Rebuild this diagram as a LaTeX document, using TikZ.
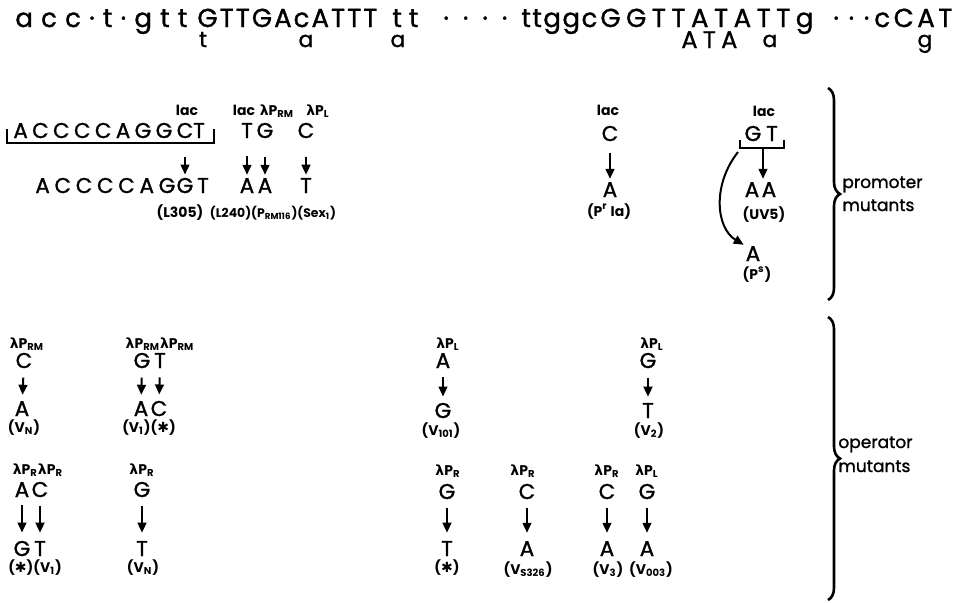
\documentclass[tikz,border=0pt]{standalone}
\usepackage{fontspec}
\setmainfont{Poppins}
\newfontfamily\medfont{Poppins}[FakeBold=1.2]
\newfontfamily\symfont{DejaVu Sans}
\usetikzlibrary{arrows.meta,decorations.pathreplacing}

\newcommand\lamP[1]{{\symfont\bfseries λ}P\textsubscript{#1}}
\newcommand\astx{{\symfont\bfseries ✱}}
\newcommand\spread[2]{\hbox to #1{#2}}

\tikzset{
  seqtop/.style={font=\fontsize{13}{14}\medfont, inner sep=0pt, anchor=base west},
  seqlow/.style={font=\fontsize{11}{12}\medfont, inner sep=0pt, anchor=base},
  nt/.style={font=\fontsize{10.7}{11}\medfont, inner sep=0pt, anchor=base},
  tag/.style={font=\fontsize{7}{8}\selectfont\bfseries, inner sep=0pt, anchor=base},
  side/.style={font=\fontsize{8.5}{10}\medfont, inner sep=0pt, anchor=base west},
  mut/.style={-{Triangle[length=5pt,width=4.4pt]}, line width=1pt, shorten <=4.5pt, shorten >=3pt},
  brk/.style={line width=1pt},
  brc/.style={decorate, decoration={brace,amplitude=6pt}, line width=1.3pt}
}

\begin{document}
\begin{tikzpicture}[x=0.5pt,y=-0.5pt]
\useasboundingbox (0,0) rectangle (960,602);

\node[seqtop] (tA) at (15,27) {\spread{86pt}{a\hfil c\hfil c\hfil ·\hfil t\hfil ·\hfil g\hfil t\hfil t}};
\node[seqtop] (tB) at (197,27) {\spread{90pt}{G\hfil T\hfil T\hfil G\hfil A\hfil c\hfil A\hfil T\hfil T\hfil T}};
\node[seqtop] (tC) at (392,27) {\spread{13pt}{t\hfil t}};
\node[seqtop] (tD) at (443,27) {\spread{32pt}{·\hfil ·\hfil ·\hfil ·}};
\node[seqtop] (tE) at (521,27) {\spread{38pt}{t\hfil t\hfil g\hfil g\hfil c}};
\node[seqtop] (tF) at (600,27) {\spread{106.5pt}{G\hfil G\hfil T\hfil T\hfil A\hfil T\hfil A\hfil T\hfil T\hfil g}};
\node[seqtop] (tG) at (833,27) {\spread{18pt}{·\hfil ·\hfil ·}};
\node[seqtop] (tH) at (874,27) {\spread{39pt}{c\hfil C\hfil A\hfil T}};
\node[seqlow] (bt1) at (203,47) {t};
\node[seqlow] (ba1) at (306,47) {a};
\node[seqlow] (ba2) at (398,47) {a};
\node[seqtop, font=\fontsize{12}{13}\medfont] (bATA) at (681,48) {\spread{28pt}{A\hfil T\hfil A}};
\node[seqlow] (ba3) at (770,47) {a};
\node[seqlow] (bg) at (925,47) {g};

\node[tag] (lac1) at (187,115) {lac};
\node[nt, anchor=base west] (w1) at (13,138) {\spread{79.5pt}{A\hfil C\hfil C\hfil C\hfil C\hfil A\hfil G\hfil G}};
\node[nt] (wC) at (185,138) {C};
\node[nt] (wT) at (199,138) {T};
\draw[brk] (7,129) -- (7,143) -- (214,143) -- (214,129);
\node[nt, anchor=base west] (m1) at (35,193) {\spread{70pt}{A\hfil C\hfil C\hfil C\hfil C\hfil A\hfil G}};
\node[nt] (mG) at (185,193) {G};
\node[nt] (mT) at (203,193) {T};
\node[tag] (l305) at (180,217) {(L305)};
\draw[mut, shorten <=9pt, shorten >=1.5pt] (wC) -- (mG);

\node[tag] (lac2) at (244,115) {lac};
\node[tag] (prm1) at (277,115) {\lamP{RM}};
\node[tag] (pl1) at (318,115) {\lamP{L}};
\node[nt] (pT) at (247,138) {T};
\node[nt] (pG) at (265,138) {G};
\node[nt] (pC) at (306,138) {C};
\node[nt] (qA1) at (247,193) {A};
\node[nt] (qA2) at (265,193) {A};
\node[nt] (qT) at (306,193) {T};
\node[tag, font=\fontsize{6.2}{7}\selectfont\bfseries] (l240) at (273,217) {(L240)(P\textsubscript{RM116})(Sex\textsubscript{1})};
\draw[mut, shorten <=9pt, shorten >=1.5pt] (pT) -- (qA1);
\draw[mut, shorten <=9pt, shorten >=1.5pt] (pG) -- (qA2);
\draw[mut, shorten <=9pt, shorten >=1.5pt] (pC) -- (qT);

\node[tag] (lac3) at (608,115) {lac};
\node[nt] (rC) at (610,141) {C};
\node[nt] (rA) at (610,197) {A};
\node[tag] (pria) at (609,216) {(P\textsuperscript{r} Ia)};
\draw[mut, shorten <=5.5pt, shorten >=1.5pt] (rC) -- (rA);

\node[tag] (lac4) at (764,116) {lac};
\node[nt] (sG) at (753,141) {G};
\node[nt] (sT) at (772,141) {T};
\draw[brk] (740,140) -- (740,148) -- (784,148) -- (784,140);
\node[nt] (uA1) at (752,197) {A};
\node[nt] (uA2) at (769,197) {A};
\node[tag] (uv5) at (764,219) {(UV5)};
\node[nt] (vA) at (753,261) {A};
\node[tag] (ps) at (757,279) {(P\textsuperscript{s})};
\coordinate (gtm) at (763,149);
\coordinate (gtl) at (738,152);
\draw[mut, shorten <=0pt, shorten >=1.5pt] (gtm) -- (gtm |- uA1.north);
\draw[mut, shorten <=0pt, shorten >=1pt] (gtl) .. controls (712,185) and (716,228) .. (vA.north west);

\draw[brc] (828,88) -- (828,300);
\node[side] (pm1) at (842,188) {promoter};
\node[side] (pm2) at (842,211) {mutants};

\node[tag] (o1l) at (27,348) {\lamP{RM}};
\node[nt] (o1C) at (24,368) {C};
\node[nt] (o1A) at (22,416) {A};
\node[tag] (o1v) at (24,432) {(V\textsubscript{N})};
\draw[mut] (o1C) -- (o1A);

\node[tag] (o2l) at (160,348) {\lamP{RM}\lamP{RM}};
\node[nt] (o2G) at (142,368) {G};
\node[nt] (o2T) at (160,368) {T};
\node[nt] (o2A) at (141,416) {A};
\node[nt] (o2C) at (159,416) {C};
\node[tag] (o2v) at (149,432) {(V\textsubscript{1})(\astx)};
\draw[mut] (o2G) -- (o2A);
\draw[mut] (o2T) -- (o2C);

\node[tag] (o3l) at (448,348) {\lamP{L}};
\node[nt] (o3A) at (443,368) {A};
\node[nt] (o3G) at (443,418) {G};
\node[tag] (o3v) at (441,435) {(V\textsubscript{101})};
\draw[mut] (o3A) -- (o3G);

\node[tag] (o4l) at (652,348) {\lamP{L}};
\node[nt] (o4G) at (648,368) {G};
\node[nt] (o4T) at (648,418) {T};
\node[tag] (o4v) at (649,435) {(V\textsubscript{2})};
\draw[mut] (o4G) -- (o4T);

\node[tag] (o5l) at (38,474) {\lamP{R}\lamP{R}};
\node[nt] (o5A) at (22,497) {A};
\node[nt] (o5C) at (40,497) {C};
\node[nt] (o5G) at (22,556) {G};
\node[nt] (o5T) at (40,556) {T};
\node[tag] (o5v) at (35,572) {(\astx)(V\textsubscript{1})};
\draw[mut, shorten <=4pt, shorten >=4pt] (o5A) -- (o5G);
\draw[mut, shorten <=4pt, shorten >=4pt] (o5C) -- (o5T);

\node[tag] (o6l) at (142,474) {\lamP{R}};
\node[nt] (o6G) at (142,497) {G};
\node[nt] (o6T) at (142,556) {T};
\node[tag] (o6v) at (143,572) {(V\textsubscript{N})};
\draw[mut, shorten <=4pt, shorten >=4pt] (o6G) -- (o6T);

\node[tag] (o7l) at (448,475) {\lamP{R}};
\node[nt] (o7G) at (447,499) {G};
\node[nt] (o7T) at (447,556) {T};
\node[tag] (o7v) at (447,572) {(\astx)};
\draw[mut, shorten <=4pt, shorten >=4pt] (o7G) -- (o7T);

\node[tag] (o8l) at (523,475) {\lamP{R}};
\node[nt] (o8C) at (527,499) {C};
\node[nt] (o8A) at (527,556) {A};
\node[tag] (o8v) at (528,574) {(V\textsubscript{S326})};
\draw[mut, shorten <=4pt, shorten >=4pt] (o8C) -- (o8A);

\node[tag] (o9l) at (607,475) {\lamP{R}};
\node[nt] (o9C) at (607,499) {C};
\node[nt] (o9A) at (607,556) {A};
\node[tag] (o9v) at (608,574) {(V\textsubscript{3})};
\draw[mut, shorten <=4pt, shorten >=4pt] (o9C) -- (o9A);

\node[tag] (o10l) at (647,475) {\lamP{L}};
\node[nt] (o10G) at (647,499) {G};
\node[nt] (o10A) at (647,556) {A};
\node[tag] (o10v) at (651,574) {(V\textsubscript{003})};
\draw[mut, shorten <=4pt, shorten >=4pt] (o10G) -- (o10A);

\draw[brc] (828,317) -- (828,600);
\node[side] (om1) at (838,448) {operator};
\node[side] (om2) at (838,472) {mutants};
\end{tikzpicture}
\end{document}
